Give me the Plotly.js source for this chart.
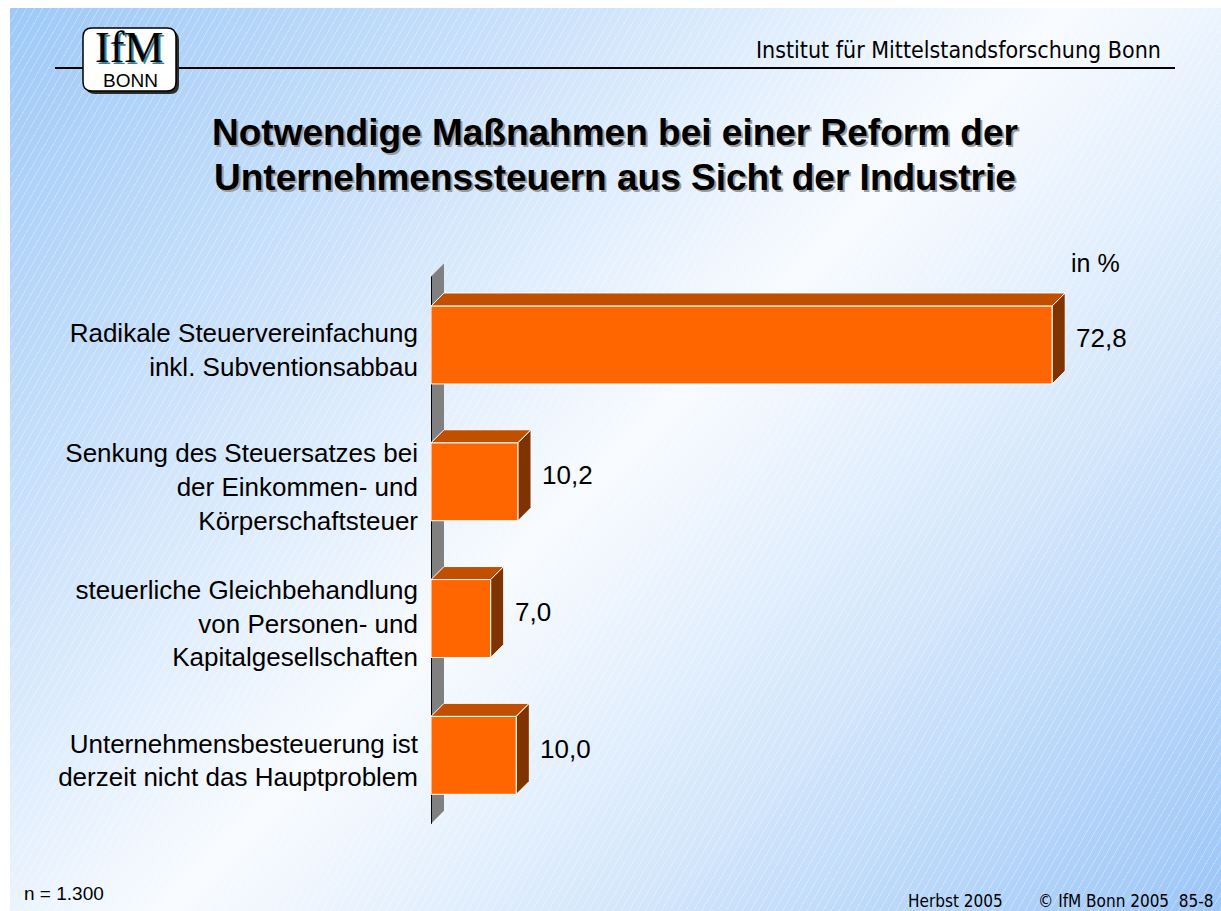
<!DOCTYPE html>
<html>
<head>
<meta charset="utf-8">
<script src="https://cdn.plot.ly/plotly-3.0.1.min.js"></script>
<style>
  html, body { margin: 0; padding: 0; background: #ffffff; }
  #wrap { position: relative; width: 1221px; height: 911px; overflow: hidden; }
  #bg { position: absolute; left: 10px; top: 8px; width: 1211px; height: 903px;
    background:
      repeating-linear-gradient(120deg, rgba(255,255,255,0.28) 0px, rgba(255,255,255,0.28) 1px, rgba(255,255,255,0) 1px, rgba(255,255,255,0) 7px),
      linear-gradient(135deg, #9ec9f7 0%, #cfe4fb 28%, #f8fbff 50%, #d3e6fb 72%, #9cc6f7 100%); }
  #chart { position: absolute; left: 0; top: 0; width: 1221px; height: 911px; }
</style>
</head>
<body>
<div id="wrap"><div id="bg"></div><div id="chart"></div></div>
<script>
// ---- data ----
const categories = [
  "Radikale Steuervereinfachung<br>inkl. Subventionsabbau",
  "Senkung des Steuersatzes bei<br>der Einkommen- und<br>Körperschaftsteuer",
  "steuerliche Gleichbehandlung<br>von Personen- und<br>Kapitalgesellschaften",
  "Unternehmensbesteuerung ist<br>derzeit nicht das Hauptproblem"
];
const values = [72.8, 10.2, 7.0, 10.0];
const valueLabels = ["72,8", "10,2", "7,0", "10,0"];
const titleLines = ["Notwendige Maßnahmen bei einer Reform der", "Unternehmenssteuern aus Sicht der Industrie"];
const unitLabel = "in %";
const headerText = "Institut für Mittelstandsforschung Bonn";
const sampleText = "n = 1.300";
const footerLeft = "Herbst 2005";
const footerRight = "© IfM Bonn 2005  85-8";

// ---- geometry (style) ----
const L = 431, R = 22, T = 250, B = 71, WIDTH = 1221, HEIGHT = 911;
const PW = WIDTH - L - R, PH = HEIGHT - T - B;
const XMAX = 90;
const YR = [3.619, -0.694];
const pxPerX = PW / XMAX, pxPerY = PH / (YR[0] - YR[1]);
const dx = 13 / pxPerX;   // depth in x units
const dy = 13 / pxPerY;   // depth in y units (upward)
const hh = 0.285;         // half bar thickness
const pos = categories.map((c, i) => i);

const fx = px => (px - L) / PW;
const fy = py => (HEIGHT - B - py) / PH;

// faces
const topX = [], topY = [], sideX = [], sideY = [];
values.forEach((v, i) => {
  const y0 = pos[i] - hh, y1 = pos[i] + hh;
  topX.push(0, v, v + dx, dx, 0, null);
  topY.push(y0, y0, y0 - dy, y0 - dy, y0, null);
  sideX.push(v, v + dx, v + dx, v, v, null);
  sideY.push(y0, y0 - dy, y1 - dy, y1, y0, null);
});

const font = "Liberation Sans, Arial, sans-serif";
const narrow = "DejaVu Sans Condensed, Liberation Sans Narrow, Liberation Sans, sans-serif";

const traces = [
  { type: "bar", orientation: "h", x: values, y: pos, width: 2 * hh,
    marker: { color: "#ff6600", line: { color: "#ffffff", width: 1 } },
    hoverinfo: "skip", showlegend: false },
  { type: "scatter", mode: "lines", x: topX, y: topY, fill: "toself",
    fillcolor: "#c05000", line: { color: "#ffffff", width: 1 }, hoverinfo: "skip", showlegend: false },
  { type: "scatter", mode: "lines", x: sideX, y: sideY, fill: "toself",
    fillcolor: "#7f3300", line: { color: "#ffffff", width: 1 }, hoverinfo: "skip", showlegend: false }
];

// rounded rect path in paper coords
function rrect(x0, y0, x1, y1, r) {
  return `M ${fx(x0 + r)},${fy(y0)} L ${fx(x1 - r)},${fy(y0)} Q ${fx(x1)},${fy(y0)} ${fx(x1)},${fy(y0 + r)} ` +
         `L ${fx(x1)},${fy(y1 - r)} Q ${fx(x1)},${fy(y1)} ${fx(x1 - r)},${fy(y1)} ` +
         `L ${fx(x0 + r)},${fy(y1)} Q ${fx(x0)},${fy(y1)} ${fx(x0)},${fy(y1 - r)} ` +
         `L ${fx(x0)},${fy(y0 + r)} Q ${fx(x0)},${fy(y0)} ${fx(x0 + r)},${fy(y0)} Z`;
}

const shapes = [
  // axis wall
  { type: "path", xref: "x", yref: "y", layer: "below",
    path: `M 0,${3.5} L ${dx},${3.5 - dy} L ${dx},${-0.5 - dy} L 0,${-0.5} Z`,
    fillcolor: "#808080", line: { width: 0 } },
  { type: "line", xref: "x", yref: "y", layer: "below", x0: 0, x1: 0, y0: -0.5, y1: 3.5,
    line: { color: "#000000", width: 2 } },
  // header rule
  { type: "line", xref: "paper", yref: "paper", x0: fx(55), x1: fx(1175), y0: fy(68), y1: fy(68),
    line: { color: "#000000", width: 2 } },
  // logo shadow + box
  { type: "path", xref: "paper", yref: "paper", path: rrect(86, 31, 179, 94, 9),
    fillcolor: "#2b2b2b", line: { width: 0 } },
  { type: "path", xref: "paper", yref: "paper", path: rrect(83, 28, 176, 91, 9),
    fillcolor: "#ffffff", line: { color: "#000000", width: 1.5 } }
];

const annotations = [];
// title with shadow
titleLines.forEach((t, k) => {
  const cy = 133 + k * 44;
  annotations.push({ xref: "paper", yref: "paper", x: fx(615), y: fy(cy), text: t, showarrow: false,
    xanchor: "center", yanchor: "middle",
    font: { family: font, size: 37, color: "#000000", weight: "bold", shadow: "2px 2px 0px #9a9a9a" } });
});
// header
annotations.push({ xref: "paper", yref: "paper", x: fx(1163), y: fy(50), text: headerText, showarrow: false,
  xanchor: "right", yanchor: "middle", font: { family: narrow, size: 23, color: "#000000" } });
// logo text
annotations.push({ xref: "paper", yref: "paper", x: fx(129), y: fy(49), text: "IfM", showarrow: false,
  xanchor: "center", yanchor: "bottom", yshift: -25,
  font: { family: "Liberation Serif, Times New Roman, serif", size: 44, color: "#000000", shadow: "2px 2px 0px #3b7f95" } });
annotations.push({ xref: "paper", yref: "paper", x: fx(130), y: fy(81), text: "BONN", showarrow: false,
  xanchor: "center", yanchor: "middle", font: { family: font, size: 19, color: "#000000" } });
// unit label
annotations.push({ xref: "paper", yref: "paper", x: fx(1095), y: fy(263), text: unitLabel, showarrow: false,
  xanchor: "center", yanchor: "middle", font: { family: font, size: 25, color: "#000000" } });
// value labels
values.forEach((v, i) => {
  annotations.push({ xref: "x", yref: "y", x: v + dx, y: pos[i] - dy / 2, text: valueLabels[i], showarrow: false,
    xanchor: "left", yanchor: "middle", xshift: 9, font: { family: font, size: 26, color: "#000000" } });
});
// footer
annotations.push({ xref: "paper", yref: "paper", x: fx(22), y: fy(893), text: sampleText, showarrow: false,
  xanchor: "left", yanchor: "middle", font: { family: font, size: 19, color: "#000000" } });
annotations.push({ xref: "paper", yref: "paper", x: fx(1005), y: fy(901), text: footerLeft, showarrow: false,
  xanchor: "right", yanchor: "middle", font: { family: narrow, size: 17, color: "#000000" } });
annotations.push({ xref: "paper", yref: "paper", x: fx(1216), y: fy(901), text: footerRight, showarrow: false,
  xanchor: "right", yanchor: "middle", font: { family: narrow, size: 17, color: "#000000" } });

const layout = {
  width: WIDTH, height: HEIGHT,
  margin: { l: L, r: R, t: T, b: B, pad: 0 },
  paper_bgcolor: "rgba(0,0,0,0)", plot_bgcolor: "rgba(0,0,0,0)",
  showlegend: false,
  xaxis: { range: [0, XMAX], visible: false, fixedrange: true },
  yaxis: { range: YR, tickvals: pos, ticktext: categories, showgrid: false, zeroline: false,
    showline: false, ticks: "", ticklabelstandoff: 12, ticklabelshift: -5, fixedrange: true,
    tickfont: { family: font, size: 26, color: "#000000" } },
  shapes: shapes,
  annotations: annotations
};

Plotly.newPlot("chart", traces, layout, { displayModeBar: false, staticPlot: true });
</script>
</body>
</html>
